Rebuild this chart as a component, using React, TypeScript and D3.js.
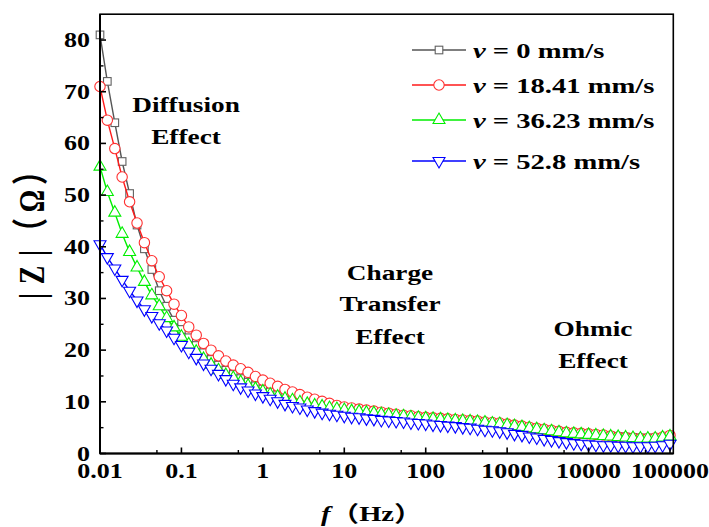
import React from 'react';
import * as d3 from 'd3';

const freqs = [
  0.01, 0.0123, 0.0152, 0.0187, 0.0231, 0.0285, 0.0351, 0.0433, 0.0534, 0.0658, 0.0811,
  0.1, 0.123, 0.152, 0.187, 0.231, 0.285, 0.351, 0.433, 0.534, 0.658, 0.811,
  1, 1.23, 1.52, 1.87, 2.31, 2.85, 3.51, 4.33, 5.34, 6.58, 8.11,
  10, 12.3, 15.2, 18.7, 23.1, 28.5, 35.1, 43.3, 53.4, 65.8, 81.1,
  100, 123, 152, 187, 231, 285, 351, 433, 534, 658, 811,
  1000, 1230, 1520, 1870, 2310, 2850, 3510, 4330, 5340, 6580, 8110,
  10000, 12300, 15200, 18700, 23100, 28500, 35100, 43300, 53400, 65800, 81100,
  100000,
];

const zGray = [
  81, 72, 64, 56.5, 50.3, 44.2, 39.6, 35.6, 31.5, 28.5, 25.8, 24.0,
  22.4, 20.9, 19.5, 18.2, 17.1, 16.1, 15.3, 14.5, 13.8, 13.1, 12.5,
  11.9, 11.4, 11.0, 10.6, 10.2, 9.9, 9.6, 9.3, 9.0, 8.8,
  8.6, 8.4, 8.2, 8.0, 7.9, 7.7, 7.6, 7.4, 7.3, 7.1, 7.0,
  6.9, 6.8, 6.7, 6.6, 6.5, 6.4, 6.3, 6.2, 6.0, 5.9, 5.8,
  5.6, 5.4, 5.2, 5.0, 4.8, 4.6, 4.4, 4.2, 4.0, 3.9, 3.8,
  3.7, 3.6, 3.5, 3.4, 3.3, 3.2, 3.1, 3.0, 3.0, 3.0, 3.1, 3.4,
];

const zRed = [
  71, 64.5, 59, 53.5, 48.7, 44.6, 40.8, 37.3, 34.2, 31.5, 28.9, 26.7,
  24.5, 22.9, 21.3, 20.0, 18.9, 17.9, 17.1, 16.4, 15.7, 14.9, 14.2,
  13.6, 13.0, 12.4, 11.9, 11.4, 10.9, 10.5, 10.1, 9.7, 9.3,
  9.0, 8.8, 8.6, 8.4, 8.2, 8.0, 7.8, 7.6, 7.4, 7.3, 7.1,
  7.0, 6.9, 6.8, 6.7, 6.6, 6.5, 6.4, 6.3, 6.1, 6.0, 5.9,
  5.7, 5.5, 5.3, 5.1, 4.9, 4.7, 4.5, 4.3, 4.1, 4.0, 3.9,
  3.8, 3.7, 3.6, 3.4, 3.2, 3.1, 3.0, 2.9, 2.9, 3.0, 3.2, 3.5,
];

const zGreen = [
  55.5, 50.6, 46.6, 42.5, 39.0, 36.0, 33.2, 30.6, 28.5, 26.2, 24.4, 22.6,
  21.1, 19.7, 18.3, 17.2, 16.1, 15.2, 14.6, 13.8, 13.1, 12.5, 12.0,
  11.4, 11.0, 10.6, 10.3, 9.9, 9.6, 9.3, 9.1, 8.8, 8.6,
  8.4, 8.2, 8.1, 7.9, 7.8, 7.6, 7.5, 7.3, 7.2, 7.0, 6.9,
  6.8, 6.7, 6.6, 6.5, 6.4, 6.3, 6.2, 6.1, 6.0, 5.8, 5.7,
  5.5, 5.3, 5.1, 4.9, 4.7, 4.5, 4.3, 4.1, 3.9, 3.8, 3.7,
  3.6, 3.5, 3.4, 3.3, 3.2, 3.1, 3.0, 2.9, 2.9, 2.9, 3.1, 3.3,
];

const zBlue = [
  40.5, 38.0, 35.8, 33.6, 31.5, 29.6, 27.9, 26.6, 25.2, 23.8, 22.4, 21.0,
  19.7, 18.5, 17.4, 16.4, 15.4, 14.4, 13.5, 12.8, 12.2, 11.6, 11.1,
  10.6, 10.1, 9.6, 9.2, 8.9, 8.5, 8.2, 7.9, 7.7, 7.5,
  7.3, 7.1, 7.0, 6.8, 6.7, 6.5, 6.4, 6.3, 6.2, 6.0, 5.9,
  5.8, 5.6, 5.5, 5.4, 5.3, 5.1, 5.0, 4.8, 4.6, 4.5, 4.3,
  4.1, 3.8, 3.6, 3.3, 3.1, 2.8, 2.6, 2.4, 2.2, 2.0, 1.9,
  1.8, 1.7, 1.6, 1.6, 1.5, 1.5, 1.4, 1.4, 1.4, 1.5, 1.6, 1.9,
];

const speedLabels = ['0', '18.41', '36.23', '52.8'];
const xMajorTicks = [0.01, 0.1, 1, 10, 100, 1000, 10000, 100000];
const xTickLabels = ['0.01', '0.1', '1', '10', '100', '1000', '10000', '100000'];
const xMinorTicks = [0.05, 0.5, 5, 50, 500, 5000, 50000];
const yMajorTicks = [0, 10, 20, 30, 40, 50, 60, 70, 80];
const yMinorTicks = [5, 15, 25, 35, 45, 55, 65, 75];

const FONT = '"Liberation Serif", "Times New Roman", serif';
const CJK = '"Noto Sans CJK SC", sans-serif';
const SX = 1.3;

const series = [
  { values: zGray, line: '#555555', stroke: '#606060', shape: 'square' },
  { values: zRed, line: '#ff1a1a', stroke: '#ff3030', shape: 'circle' },
  { values: zGreen, line: '#00ee00', stroke: '#00ee00', shape: 'up' },
  { values: zBlue, line: '#0000ff', stroke: '#0000ff', shape: 'down' },
];

function Marker({ shape, x, y, stroke }: { shape: string; x: number; y: number; stroke: string }) {
  const common = { fill: '#ffffff', stroke, strokeWidth: 1.1 };
  if (shape === 'square') return <rect x={x - 3.8} y={y - 3.8} width={7.6} height={7.6} {...common} />;
  if (shape === 'circle') return <circle cx={x} cy={y} r={5.2} {...common} />;
  if (shape === 'up')
    return <path d={`M${x},${y - 7}L${x + 6},${y + 3.5}L${x - 6},${y + 3.5}Z`} {...common} />;
  return <path d={`M${x},${y + 7}L${x + 6},${y - 3.5}L${x - 6},${y - 3.5}Z`} {...common} />;
}

function SText({ x, y, anchor = 'start', size, children }: any) {
  return (
    <text
      transform={`translate(${x},${y}) scale(${SX},1)`}
      textAnchor={anchor}
      fontSize={size}
      fontWeight="bold"
      fontFamily={FONT}
      fill="#000"
    >
      {children}
    </text>
  );
}

function VGlyph({ y, ch, family = FONT }: { y: number; ch: string; family?: string }) {
  return (
    <text
      transform={`translate(44,${y}) rotate(-90) scale(1,${SX})`}
      textAnchor="middle"
      fontSize={28}
      fontWeight="bold"
      fontFamily={family}
      fill="#000"
    >
      {ch}
    </text>
  );
}

export default function App() {
  const x = d3.scaleLog().domain([0.01, 100000]).range([100, 670]);
  const y = d3.scaleLinear().domain([0, 85]).range([453.5, 14.2]);
  const left = 100, right = 673.3, top = y(85), bottom = y(0);

  const line = d3
    .line<number>()
    .x((_, i) => x(freqs[i]))
    .y((d) => y(d));

  const legendRows = [50, 85, 120, 161];

  return (
    <svg width={709} height={527} style={{ position: 'absolute', left: 0, top: 0, background: '#fff' }}>
      <rect x={0} y={0} width={709} height={527} fill="#fff" />

      {series.map((s, si) => (
        <g key={si}>
          <path d={line(s.values) || ''} fill="none" stroke={s.line} strokeWidth={1.4} />
          {s.values.map((v, i) => (
            <Marker key={i} shape={s.shape} x={x(freqs[i])} y={y(v)} stroke={s.stroke} />
          ))}
        </g>
      ))}

      {/* frame */}
      <rect x={left} y={top} width={right - left} height={bottom - top} fill="none" stroke="#000" strokeWidth={1.6} />
      <line x1={left} x2={left} y1={top} y2={bottom} stroke="#000" strokeWidth={2} />
      <line x1={left} x2={right} y1={bottom} y2={bottom} stroke="#000" strokeWidth={2} />

      {/* x ticks */}
      {xMajorTicks.map((t, i) => (
        <g key={'xm' + i}>
          <line x1={x(t)} x2={x(t)} y1={bottom} y2={bottom - 6} stroke="#000" strokeWidth={1.6} />
          <SText x={x(t)} y={478} anchor="middle" size={20}>
            {xTickLabels[i]}
          </SText>
        </g>
      ))}
      {xMinorTicks.map((t, i) => (
        <line key={'xn' + i} x1={x(t)} x2={x(t)} y1={bottom} y2={bottom - 3.5} stroke="#000" strokeWidth={1.4} />
      ))}

      {/* y ticks */}
      {yMajorTicks.map((t, i) => (
        <g key={'ym' + i}>
          <line x1={left} x2={left + 6} y1={y(t)} y2={y(t)} stroke="#000" strokeWidth={1.6} />
          <SText x={90} y={y(t) + 7} anchor="end" size={20}>
            {String(t)}
          </SText>
        </g>
      ))}
      {yMinorTicks.map((t, i) => (
        <line key={'yn' + i} x1={left} x2={left + 3.5} y1={y(t)} y2={y(t)} stroke="#000" strokeWidth={1.4} />
      ))}

      {/* axis titles */}
      <text
        transform={`translate(321,521) scale(${SX},1)`}
        fontSize={22}
        fontWeight="bold"
        fontFamily={FONT}
      >
        <tspan fontStyle="italic">f</tspan>
        <tspan fontFamily={CJK}>（</tspan>
        <tspan>Hz</tspan>
        <tspan fontFamily={CJK}>）</tspan>
      </text>
      <g>
        <VGlyph y={296} ch="|" />
        <VGlyph y={275} ch="Z" />
        <VGlyph y={253} ch="|" />
        <VGlyph y={232} ch="（" family={CJK} />
        <VGlyph y={201} ch="Ω" />
        <VGlyph y={171} ch="）" family={CJK} />
      </g>

      {/* annotations */}
      <SText x={186} y={112} anchor="middle" size={21}>Diffusion</SText>
      <SText x={186} y={144} anchor="middle" size={21}>Effect</SText>
      <SText x={390} y={280} anchor="middle" size={21}>Charge</SText>
      <SText x={390} y={311} anchor="middle" size={21}>Transfer</SText>
      <SText x={390} y={344} anchor="middle" size={21}>Effect</SText>
      <SText x={593} y={336} anchor="middle" size={21}>Ohmic</SText>
      <SText x={593} y={368} anchor="middle" size={21}>Effect</SText>

      {/* legend */}
      {series.map((s, i) => (
        <g key={'lg' + i}>
          <line x1={412} x2={466} y1={legendRows[i]} y2={legendRows[i]} stroke={s.line} strokeWidth={1.4} />
          <Marker shape={s.shape} x={439} y={legendRows[i]} stroke={s.stroke} />
          <SText x={473} y={legendRows[i] + 7.5} size={22}>
            <tspan fontStyle="italic">v</tspan>
            <tspan>{` = ${speedLabels[i]} mm/s`}</tspan>
          </SText>
        </g>
      ))}
    </svg>
  );
}
